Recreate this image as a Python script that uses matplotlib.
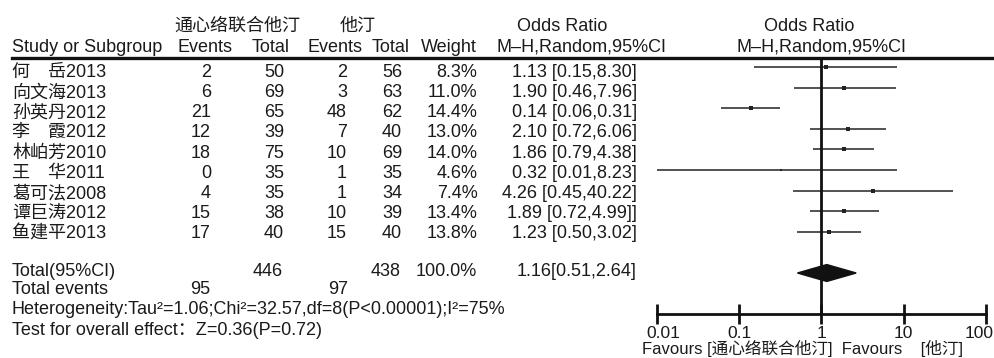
import matplotlib
matplotlib.use("Agg")
import matplotlib.pyplot as plt
from matplotlib import transforms
from matplotlib.lines import Line2D

plt.rcParams['font.family'] = ['Liberation Sans', 'Noto Sans CJK SC', 'DejaVu Sans']

studies = ["何\u3000岳2013", "向文海2013", "孙英丹2012", "李\u3000霞2012", "林岶芳2010",
           "王\u3000华2011", "葛可法2008", "谭巨涛2012", "鱼建平2013"]
events_exp = [2, 6, 21, 12, 18, 0, 4, 15, 17]
total_exp = [50, 69, 65, 39, 75, 35, 35, 38, 40]
events_ctl = [2, 3, 48, 7, 10, 1, 1, 10, 15]
total_ctl = [56, 63, 62, 40, 69, 35, 34, 39, 40]
weights = [8.3, 11.0, 14.4, 13.0, 14.0, 4.6, 7.4, 13.4, 13.8]
odds = [1.13, 1.90, 0.14, 2.10, 1.86, 0.32, 4.26, 1.89, 1.23]
ci_low = [0.15, 0.46, 0.06, 0.72, 0.79, 0.01, 0.45, 0.72, 0.50]
ci_high = [8.30, 7.96, 0.31, 6.06, 4.38, 8.23, 40.22, 4.99, 3.02]
or_labels = ["1.13 [0.15,8.30]", "1.90 [0.46,7.96]", "0.14 [0.06,0.31]", "2.10 [0.72,6.06]",
             "1.86 [0.79,4.38]", "0.32 [0.01,8.23]", "4.26 [0.45,40.22]", "1.89 [0.72,4.99]]",
             "1.23 [0.50,3.02]"]
total_or, total_low, total_high = 1.16, 0.51, 2.64
total_exp_n, total_ctl_n = 446, 438
total_events_exp, total_events_ctl = 95, 97
tick_vals = [0.01, 0.1, 1, 10, 100]
tick_labels = ["0.01", "0.1", "1", "10", "100"]

W, H = 995, 358
fig = plt.figure(figsize=(W / 100, H / 100), dpi=100)

# forest panel: rows in data units, row 0 at 67 px, 20.6 px per row
row0_px, row_h = 67, 20.6
ax = fig.add_axes([657 / W, 0, (986 - 657) / W, 1])
ax.set_xscale('log')
ax.set_xlim(0.01, 100)
ax.set_ylim((H - row0_px) / row_h, -row0_px / row_h)
for s in ['top', 'left', 'right']:
    ax.spines[s].set_visible(False)
ax.spines['bottom'].set_position(('data', 12))
ax.spines['bottom'].set_linewidth(2)
ax.spines['bottom'].set_color('#111111')
ax.set_yticks([])
ax.set_xticks(tick_vals)
ax.set_xticklabels(tick_labels)
ax.minorticks_off()
ax.tick_params(axis='x', direction='inout', length=15, width=2, color='#111111',
               labelsize=12.5, pad=1, labelcolor='#1a1a1a')
ax.patch.set_alpha(0)
labs = ax.get_xticklabels()
labs[0].set_transform(labs[0].get_transform() + transforms.ScaledTranslation(6 / 100, 0, fig.dpi_scale_trans))
labs[-1].set_transform(labs[-1].get_transform() + transforms.ScaledTranslation(-7 / 100, 0, fig.dpi_scale_trans))

tc = '#1a1a1a'
fs = 13

def T(xpx, ypx, s, ha='left', size=fs, **kw):
    fig.text(xpx / W, 1 - ypx / H, s, ha=ha, va='baseline', fontsize=size, color=tc, **kw)

# header
h1, h2 = 31, 51.5
T(174, h1, "通心络联合他汀")
T(358, h1, "他汀", ha='center')
T(562, h1, "Odds Ratio", ha='center')
T(809, h1, "Odds Ratio", ha='center')
T(12, h2, "Study or Subgroup")
T(233, h2, "Events", ha='right')
T(290, h2, "Total", ha='right')
T(363, h2, "Events", ha='right')
T(410, h2, "Total", ha='right')
T(477, h2, "Weight", ha='right')
T(582, h2, "M\u2013H,Random,95%CI", ha='center')
T(821, h2, "M\u2013H,Random,95%CI", ha='center')

line_px = 57.5
line_y = (line_px - row0_px) / row_h
fig.add_artist(Line2D([12 / W, 1.0], [1 - line_px / H] * 2, transform=fig.transFigure,
                      color='#111111', lw=2.4))

base0, base_step = 77, 20.15
for i in range(len(studies)):
    b = base0 + base_step * i
    T(12, b, studies[i])
    T(211, b, str(events_exp[i]), ha='right')
    T(284, b, str(total_exp[i]), ha='right')
    T(347, b, str(events_ctl[i]), ha='right')
    T(402, b, str(total_ctl[i]), ha='right')
    T(477.5, b, f"{weights[i]:.1f}%", ha='right')
    T(637, b, or_labels[i], ha='right')
    ax.hlines(i, ci_low[i], ci_high[i], color='#444444', lw=1.3, zorder=2)
    ax.plot(odds[i], i, marker='s', ms=1.4 + weights[i] * 0.13, color='#222222', mew=0, zorder=3)

ax.vlines(1, line_y, 12, color='#111111', lw=2, zorder=4)

tb = 276.5
T(12, tb, "Total(95%CI)")
T(283, tb, str(total_exp_n), ha='right')
T(401, tb, str(total_ctl_n), ha='right')
T(477, tb, "100.0%", ha='right')
T(637, tb, f"{total_or:.2f}[{total_low:.2f},{total_high:.2f}]", ha='right')
ty = 10
ax.fill([total_low, total_or, total_high, total_or], [ty, ty - 0.41, ty, ty + 0.41],
        color='#111111', zorder=5)

T(12, 293.5, "Total events")
T(210, 293.5, str(total_events_exp), ha='right')
T(348, 293.5, str(total_events_ctl), ha='right')
T(12, 314, "Heterogeneity:Tau\u00b2=1.06;Chi\u00b2=32.57,df=8(P<0.00001);I\u00b2=75%")
T(12, 335, "Test for overall effect\uff1aZ=0.36(P=0.72)")

T(642, 354.3, "Favours [通心络联合他汀]  Favours    [他汀]", size=12)

fig.savefig("out.png", dpi=100)
